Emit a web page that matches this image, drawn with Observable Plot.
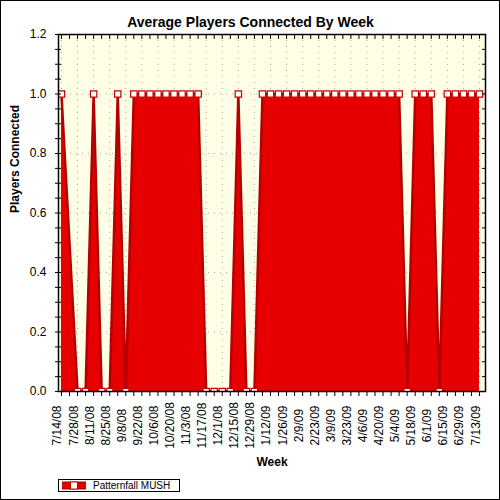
<!DOCTYPE html>
<html>
<head>
<meta charset="utf-8">
<script src="https://cdn.jsdelivr.net/npm/d3@7"></script>
<script src="https://cdn.jsdelivr.net/npm/@observablehq/plot@0.6"></script>
<style>
  html, body { margin: 0; padding: 0; background: #fff; }
  #wrap { position: relative; width: 500px; height: 500px; font-family: "Liberation Sans", Arial, sans-serif; }
  #border { position: absolute; left: 0; top: 0; width: 500px; height: 500px; box-sizing: border-box; border: 1px solid #000; pointer-events: none; }
  #legend { position: absolute; left: 58px; top: 479px; width: 122px; height: 13px; box-sizing: border-box; border: 1px solid #000; background: #fff; }
  #legend svg { position: absolute; left: 2px; top: 1px; }
  #legend span { position: absolute; left: 34px; top: -1px; font-size: 10px; line-height: 13px; color: #000; white-space: nowrap; }
</style>
</head>
<body>
<div id="wrap"></div>
<script>
// ---- data ----
const weekDates = [
  "7/14/08","7/28/08","8/4/08","8/11/08","8/18/08","8/25/08","9/1/08","9/8/08",
  "9/15/08","9/22/08","9/29/08","10/6/08","10/13/08","10/20/08","10/27/08","11/3/08","11/10/08",
  "11/17/08","11/24/08","12/1/08","12/8/08","12/15/08","12/22/08","12/29/08",
  "1/5/09","1/12/09","1/19/09","1/26/09","2/2/09","2/9/09","2/16/09","2/23/09","3/2/09","3/9/09",
  "3/16/09","3/23/09","3/30/09","4/6/09","4/13/09","4/20/09","4/27/09","5/4/09",
  "5/11/09","5/18/09","5/25/09","6/1/09","6/8/09","6/15/09","6/22/09","6/29/09","7/6/09","7/13/09"
];
const playersConnected = [
  1,0,0,1,0,0,1,0,
  1,1,1,1,1,1,1,1,1,
  0,0,0,0,1,0,0,
  1,1,1,1,1,1,1,1,1,1,
  1,1,1,1,1,1,1,1,
  0,1,1,1,0,1,1,1,1,1
];
const xTickLabels = [
  "7/14/08","7/28/08","8/11/08","8/25/08","9/8/08","9/22/08","10/6/08","10/20/08","11/3/08",
  "11/17/08","12/1/08","12/15/08","12/29/08","1/12/09","1/26/09","2/9/09","2/23/09","3/9/09",
  "3/23/09","4/6/09","4/20/09","5/4/09","5/18/09","6/1/09","6/15/09","6/29/09","7/13/09"
];
const yMajorTicks = [0, 0.2, 0.4, 0.6, 0.8, 1.0, 1.2];
const yMinorTicks = d3.range(0, 1.2001, 0.05);
const seriesName = "Patternfall MUSH";
const chartTitle = "Average Players Connected By Week";
const xTitle = "Week";
const yTitle = "Players Connected";

const parse = d3.utcParse("%m/%d/%y");
const data = weekDates.map((d, i) => ({date: parse(d), value: playersConnected[i]}));
const labelDates = xTickLabels.map(parse);
const weekTicks = d3.utcMonday.range(parse("7/14/08"), new Date(Date.UTC(2009, 6, 14)));

const RED = "#e60000", DARK = "#b40000", MARK = "#c00000";
const gridStyle = {stroke: "#a8a8a8", strokeOpacity: 1, strokeDasharray: "1,5"};

const chart = Plot.plot({
  width: 500,
  height: 500,
  marginLeft: 58,
  marginRight: 15,
  marginTop: 34,
  marginBottom: 109,
  style: {background: "transparent", fontFamily: "'Liberation Sans', Arial, sans-serif", fontSize: "12px", color: "#000"},
  x: {type: "utc", domain: [new Date(Date.UTC(2008, 6, 11, 10)), new Date(Date.UTC(2009, 6, 18, 5))], axis: null},
  y: {domain: [0, 1.2], axis: null},
  marks: [
    Plot.frame({fill: "#fffee6", stroke: null}),
    Plot.gridX(labelDates, gridStyle),
    Plot.gridY(yMajorTicks.filter(d => d > 0 && d < 1.2), gridStyle),
    Plot.areaY(data, {x: "date", y: "value", fill: RED, clip: true}),
    Plot.lineY(data, {x: "date", y: "value", stroke: DARK, strokeWidth: 2.5, clip: true}),
    Plot.dot(data, {x: "date", y: "value", symbol: "square", r: 3.6, fill: "white", stroke: MARK, strokeWidth: 1.2, clip: true}),
    Plot.frame({stroke: "#000", strokeWidth: 1.5}),
    // bottom ticks
    Plot.axisX({anchor: "bottom", ticks: weekTicks, tickSize: 5, fill: "none", label: null}),
    // top ticks (inward)
    Plot.axisX({anchor: "top", ticks: weekTicks, tickSize: 4, dy: 4, fill: "none", label: null}),
    // left ticks (crossing)
    Plot.axisY({anchor: "left", ticks: yMinorTicks, tickSize: 6, dx: 3, fill: "none", label: null}),
    // left labels
    Plot.axisY({anchor: "left", ticks: yMajorTicks, tickSize: 0, tickPadding: 12, tickFormat: d3.format(".1f"), fontSize: 12, label: null}),
    // right ticks (inward)
    Plot.axisY({anchor: "right", ticks: yMinorTicks, tickSize: 4, dx: -4, fill: "none", label: null}),
    // x tick labels, rotated and centred
    Plot.text(labelDates, {x: d => d, text: (d, i) => xTickLabels[i], frameAnchor: "bottom", rotate: -90, dy: 34, textAnchor: "middle", fontSize: 12, fill: "#000"}),
    // titles
    Plot.text([chartTitle], {text: d => d, frameAnchor: "top", dx: -21.5, dy: -17, fontSize: 14, fontWeight: "bold", fill: "#000"}),
    Plot.text([xTitle], {text: d => d, frameAnchor: "bottom", dy: 74, fontSize: 12, fontWeight: "bold", fill: "#000"}),
    Plot.text([yTitle], {text: d => d, frameAnchor: "left", dx: -43, rotate: -90, fontSize: 12, fontWeight: "bold", fill: "#000"})
  ]
});

const wrap = document.getElementById("wrap");
wrap.appendChild(chart);

const legend = document.createElement("div");
legend.id = "legend";
legend.innerHTML =
  `<svg width="28" height="9" viewBox="0 0 28 9">
     <rect x="1" y="0.5" width="24" height="8" fill="${RED}"/>
     <line x1="1" x2="25" y1="1.5" y2="1.5" stroke="${DARK}" stroke-width="1"/>
     <line x1="1" x2="25" y1="7.5" y2="7.5" stroke="${DARK}" stroke-width="1"/>
     <rect x="9.5" y="1" width="7" height="7" fill="#fff" stroke="${MARK}" stroke-width="1"/>
   </svg><span></span>`;
legend.querySelector("span").textContent = seriesName;
wrap.appendChild(legend);

const border = document.createElement("div");
border.id = "border";
wrap.appendChild(border);
</script>
</body>
</html>
